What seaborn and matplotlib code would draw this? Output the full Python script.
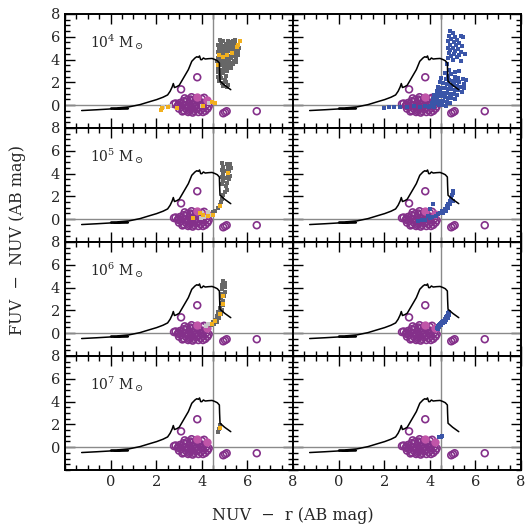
import numpy as np
import matplotlib
matplotlib.use("Agg")
import matplotlib.pyplot as plt
from matplotlib.ticker import MultipleLocator
import seaborn as sns

# model track (same in every panel)
track_x = [-1.27, -0.6, 0.0, 0.5, 0.78, 0.3, 0.0, 0.4, 0.8, 1.29, 1.7, 2.02, 2.3, 2.5, 2.61,
           2.70, 2.75, 2.80, 2.90, 3.01, 3.2, 3.41, 3.56, 3.70, 3.78, 3.85, 3.90, 3.95, 4.0,
           4.07, 4.15, 4.29, 4.45, 4.58, 4.68, 4.77, 4.78, 4.79, 4.80, 5.0, 5.27]
track_y = [-0.47, -0.4, -0.33, -0.3, -0.3, -0.32, -0.28, -0.22, -0.15, 0.05, 0.3, 0.49, 0.7,
           0.9, 1.22, 1.6, 1.9, 1.55, 1.62, 1.75, 2.4, 3.12, 3.85, 4.14, 4.25, 4.2, 4.32, 4.0,
           3.99, 4.14, 4.05, 4.08, 4.1, 4.0, 3.9, 3.70, 3.0, 2.5, 2.1, 1.75, 1.36]

# observed galaxies (open circles) and the two filled ones
obs = [(3.80, 2.45), (3.09, 1.39), (4.94, -0.71), (5.09, -0.53), (5.02, -0.62), (6.41, -0.53),
       (2.85, 0.15), (2.95, -0.05), (3.05, 0.2), (3.0, -0.3), (3.1, -0.15), (3.15, 0.1),
       (3.2, -0.45), (3.25, 0.0), (3.3, 0.3), (3.3, -0.3), (3.35, 0.45), (3.4, -0.1),
       (3.45, 0.15), (3.5, -0.4), (3.5, 0.5), (3.55, -0.2), (3.6, 0.1), (3.6, 0.4),
       (3.65, -0.5), (3.7, -0.1), (3.7, 0.25), (3.75, -0.35), (3.8, 0.05), (3.85, 0.5),
       (3.85, -0.2), (3.9, 0.3), (3.95, -0.45), (4.0, 0.0), (4.0, 0.55), (4.05, -0.25),
       (4.1, 0.2), (4.15, -0.5), (4.2, 0.05), (4.25, -0.3), (3.15, -0.55), (3.4, -0.6),
       (3.6, -0.65), (3.85, -0.6), (4.05, -0.6), (3.25, 0.6), (3.55, 0.7), (4.3, -0.1),
       (2.98, 0.05), (3.45, -0.5), (3.75, 0.6), (4.1, 0.65), (2.78, 0.1), (3.2, 0.35)]
obs_filled = [(3.78, 0.75), (4.21, 0.46)]

# left column: dark grey, light grey and orange model points per cluster mass
gray_4 = [(4.72, 5.3), (4.85, 5.5), (4.95, 5.6), (5.05, 5.4), (5.15, 5.65), (5.25, 5.5),
          (5.35, 5.6), (5.45, 5.45), (5.55, 5.3), (5.62, 5.0), (4.75, 5.0), (4.88, 5.15),
          (5.0, 5.05), (5.1, 5.2), (5.2, 5.1), (5.3, 5.25), (5.4, 5.1), (5.5, 4.95),
          (5.6, 4.7), (4.7, 4.7), (4.82, 4.8), (4.95, 4.7), (5.05, 4.85), (5.18, 4.75),
          (5.28, 4.9), (5.38, 4.75), (5.48, 4.6), (5.58, 4.4), (4.75, 4.4), (4.88, 4.5),
          (5.0, 4.35), (5.12, 4.5), (5.22, 4.35), (5.32, 4.5), (5.42, 4.3), (5.52, 4.15),
          (4.72, 4.1), (4.85, 4.2), (4.98, 4.05), (5.1, 4.15), (5.2, 4.0), (5.3, 4.1),
          (5.4, 3.9), (5.5, 3.8), (4.78, 3.8), (4.9, 3.9), (5.02, 3.75), (5.15, 3.85),
          (5.25, 3.7), (5.35, 3.6), (4.7, 3.5), (4.85, 3.55), (4.98, 3.45), (5.1, 3.5),
          (5.2, 3.35), (5.3, 3.25), (4.72, 3.2), (4.88, 3.1), (5.0, 3.2), (5.12, 3.0),
          (4.7, 2.9), (4.8, 2.7), (4.95, 2.8), (5.05, 2.6), (4.72, 2.5), (4.85, 2.35),
          (5.0, 2.25), (4.75, 2.1), (4.9, 1.95), (5.05, 2.0), (5.15, 1.8), (4.95, 1.7),
          (5.1, 1.6), (4.8, 5.75), (5.45, 5.7), (4.67, 3.9)]
light_4 = [(2.3, -0.2), (2.6, -0.1), (4.3, 0.2), (4.0, -0.05)]
orange_4 = [(5.68, 5.63), (5.6, 5.3), (5.53, 5.13), (5.31, 4.55), (5.09, 4.4), (4.94, 4.26),
            (4.77, 4.4), (4.73, 3.53), (4.43, 0.3), (4.58, 0.17), (4.07, -0.07),
            (2.90, -0.27), (2.53, -0.18), (2.24, -0.27), (2.2, -0.4)]

gray_5 = [(4.9, 4.9), (5.1, 4.85), (5.25, 4.8), (4.95, 4.6), (5.15, 4.55), (5.3, 4.5),
          (4.9, 4.3), (5.05, 4.25), (5.2, 4.2), (4.95, 4.0), (5.15, 3.95), (5.25, 3.8),
          (4.9, 3.7), (5.05, 3.6), (5.2, 3.5), (4.95, 3.35), (5.1, 3.2), (4.9, 3.05),
          (5.05, 2.9), (5.1, 2.55), (5.0, 2.4), (4.95, 2.1), (4.9, 1.8), (4.85, 1.5),
          (4.78, 1.25), (4.7, 1.0), (4.6, 0.75), (4.5, 0.6)]
light_5 = [(4.0, 0.5), (4.25, 0.65), (4.1, 0.2), (4.35, 0.35), (3.95, 0.1)]
orange_5 = [(5.16, 4.06), (4.8, 1.14), (4.51, 0.41), (4.29, 0.26), (4.07, 0.41), (3.92, 0.55),
            (3.63, 0.11)]

gray_6 = [(4.95, 4.6), (5.0, 4.4), (4.9, 4.25), (5.0, 4.05), (4.9, 3.85), (5.0, 3.65),
          (4.88, 3.45), (4.98, 3.25), (4.85, 3.05), (4.95, 2.85), (4.82, 2.65), (4.92, 2.45),
          (4.78, 2.25), (4.88, 2.05), (4.73, 1.85), (4.83, 1.65), (4.68, 1.5), (4.75, 1.3),
          (4.6, 1.2), (4.65, 1.0), (4.5, 0.95), (4.55, 0.8), (4.42, 0.75)]
light_6 = [(4.29, 0.78), (4.2, 0.65)]
orange_6 = [(4.94, 3.26), (4.94, 2.53), (4.8, 1.65), (4.58, 1.07), (4.43, 0.78)]

gray_7 = [(4.8, 1.95), (4.7, 1.36), (4.75, 1.6)]
light_7 = []
orange_7 = [(4.8, 1.66)]

# right column: blue model points
blue_4 = [(4.9, 6.55), (5.0, 6.3), (4.85, 6.1), (5.1, 6.0), (5.35, 6.1), (5.45, 5.95),
          (4.95, 5.8), (5.2, 5.75), (4.8, 5.6), (5.05, 5.5), (5.3, 5.45), (4.9, 5.3),
          (5.15, 5.25), (5.4, 5.2), (4.8, 5.05), (5.0, 5.0), (5.25, 4.95), (4.9, 4.8),
          (5.1, 4.75), (5.35, 4.7), (4.85, 4.55), (5.05, 4.5), (5.3, 4.4), (5.55, 4.5),
          (4.95, 4.3), (5.2, 4.2), (4.8, 4.1), (5.0, 3.95), (5.35, 3.85), (4.75, 3.6),
          (4.85, 3.1), (5.1, 2.95), (5.3, 3.0),
          (4.65, 2.8), (4.8, 2.6), (4.95, 2.7), (5.1, 2.5), (5.25, 2.4), (5.45, 2.3),
          (5.6, 2.2), (4.5, 2.4), (4.7, 2.3), (4.85, 2.2), (5.0, 2.15), (5.15, 2.1),
          (5.3, 2.0), (5.5, 1.9), (4.45, 2.0), (4.6, 1.95), (4.75, 1.85), (4.9, 1.8),
          (5.05, 1.75), (5.2, 1.7), (5.35, 1.6), (5.5, 1.5), (4.35, 1.6), (4.5, 1.55),
          (4.65, 1.5), (4.8, 1.45), (4.95, 1.4), (5.1, 1.35), (5.25, 1.3), (5.4, 1.2),
          (4.3, 1.25), (4.45, 1.2), (4.6, 1.1), (4.75, 1.05), (4.9, 1.0), (5.05, 0.95),
          (5.2, 0.9), (4.2, 0.9), (4.35, 0.85), (4.5, 0.8), (4.65, 0.7), (4.8, 0.65),
          (4.95, 0.6), (5.1, 0.5), (4.15, 0.55), (4.3, 0.5), (4.45, 0.4), (4.6, 0.35),
          (4.75, 0.3), (4.9, 0.2), (4.1, 0.2), (4.25, 0.15), (4.4, 0.05), (4.55, 0.0),
          (4.7, -0.05), (4.0, -0.1), (4.2, -0.15),
          (2.0, -0.25), (2.2, -0.2), (2.45, -0.15), (2.7, -0.2), (3.0, -0.15), (3.3, -0.1),
          (3.55, -0.2), (3.8, -0.1), (3.95, -0.2)]
blue_5 = [(3.5, -0.16), (3.65, -0.1), (3.8, -0.05), (4.0, 0.1), (4.1, 0.15), (4.25, 0.3),
          (4.35, 0.45), (4.45, 0.55), (4.55, 0.7), (4.65, 0.9), (4.74, 1.14), (4.8, 1.35),
          (4.87, 1.6), (4.92, 1.85), (4.96, 2.1), (5.0, 2.3), (5.03, 2.46), (4.6, 0.55),
          (4.7, 0.75), (4.8, 1.0), (4.9, 1.3), (5.0, 1.6), (4.15, 1.31), (4.01, 0.87),
          (3.9, 0.3)]
blue_6 = [(4.3, 0.45), (4.35, 0.6), (4.4, 0.7), (4.45, 0.8), (4.5, 0.9), (4.55, 1.0),
          (4.6, 1.1), (4.65, 1.25), (4.7, 1.4), (4.75, 1.55), (4.8, 1.75), (4.82, 1.9),
          (4.35, 0.4), (4.42, 0.55), (4.5, 0.7), (4.58, 0.85), (4.65, 1.0), (4.72, 1.15),
          (4.78, 1.35), (4.85, 1.6)]
blue_7 = [(4.52, 0.98), (4.4, 0.9), (4.47, 0.92), (4.55, 1.02)]

mass_exp = ["4", "5", "6", "7"]
gray_sets = [gray_4, gray_5, gray_6, gray_7]
light_sets = [light_4, light_5, light_6, light_7]
orange_sets = [orange_4, orange_5, orange_6, orange_7]
blue_sets = [blue_4, blue_5, blue_6, blue_7]

c_circle = "#84308a"
c_filled = "#c055a8"
c_gray = "#676767"
c_light = "#c8c8c8"
c_orange = "#f2b01e"
c_blue = "#3a55a8"

sns.set_style("ticks")
plt.rcParams["font.family"] = ["DejaVu Serif"]
plt.rcParams["mathtext.fontset"] = "dejavuserif"


def squares(ax, pts, color, z, size=10):
    if len(pts) == 0:
        return
    x, y = zip(*pts)
    sns.scatterplot(x=list(x), y=list(y), ax=ax, marker="s", s=size, color=color,
                    linewidth=0, zorder=z)


fig, axes = plt.subplots(4, 2, sharex=True, sharey=True, figsize=(5.26, 5.26), dpi=100)
fig.subplots_adjust(left=0.1236, right=0.9905, top=0.9734, bottom=0.1065,
                    wspace=0, hspace=0)

ox, oy = zip(*obs)
fx, fy = zip(*obs_filled)

for i in range(4):
    for j in range(2):
        ax = axes[i, j]
        ax.axvline(4.5, color="#8a8a8a", lw=1, zorder=1)
        ax.axhline(0, color="#8a8a8a", lw=1, zorder=1)
        sns.scatterplot(x=list(ox), y=list(oy), ax=ax, marker="o", s=24,
                        facecolors="none", edgecolor=c_circle, linewidth=1.2, zorder=2)
        sns.scatterplot(x=list(fx), y=list(fy), ax=ax, marker="o", s=36,
                        color=c_filled, linewidth=0, zorder=2)
        if j == 0:
            squares(ax, gray_sets[i], c_gray, 3, size=11)
            squares(ax, light_sets[i], c_light, 3)
            squares(ax, orange_sets[i], c_orange, 4, size=10)
            ax.text(-0.9, 5.5, r"10$^{%s}$ M$_\odot$" % mass_exp[i], fontsize=10,
                    ha="left", va="center")
        else:
            squares(ax, blue_sets[i], c_blue, 3, size=8)
        sns.lineplot(x=track_x, y=track_y, ax=ax, sort=False, estimator=None,
                     color="black", lw=1.1, zorder=5)

        ax.set_xlim(-2, 8)
        ax.set_ylim(-2, 8)
        ax.set_xticks([0, 2, 4, 6, 8])
        ax.set_yticks([0, 2, 4, 6, 8])
        ax.xaxis.set_minor_locator(MultipleLocator(0.5))
        ax.yaxis.set_minor_locator(MultipleLocator(0.5))
        ax.tick_params(which="both", direction="in", top=True, right=True,
                       labelsize=10.5, width=1, color="black")
        ax.tick_params(which="major", length=7)
        ax.tick_params(which="minor", length=3.5)
        ax.set_xlabel("")
        ax.set_ylabel("")
        for sp in ax.spines.values():
            sp.set_linewidth(1.4)
            sp.set_color("black")

fig.text(0.557, 0.02, "NUV  \u2212  r (AB mag)", ha="center", va="center", fontsize=11.5)
fig.text(0.034, 0.544, "FUV  \u2212  NUV (AB mag)", ha="center", va="center",
         rotation=90, fontsize=11.5)

fig.savefig("out.png", dpi=100)
